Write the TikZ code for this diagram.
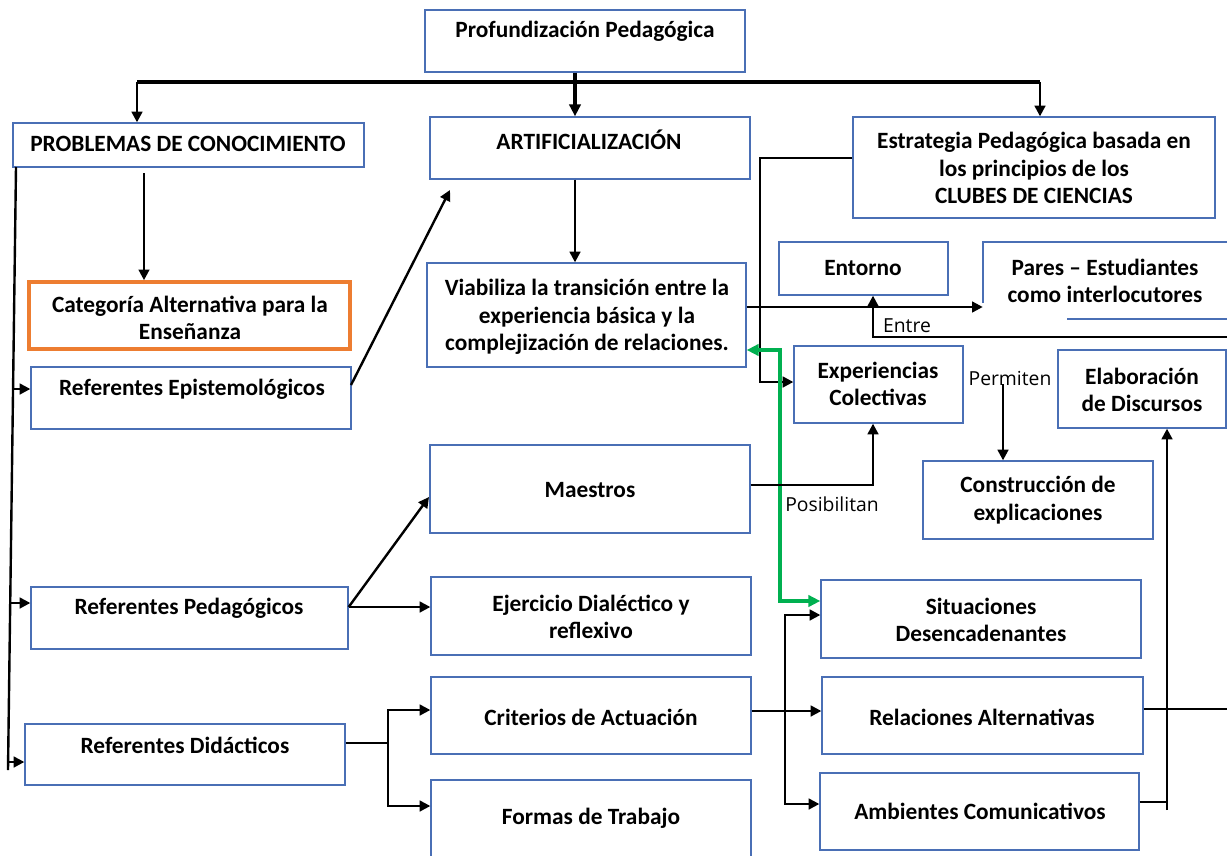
\documentclass[tikz,border=0pt]{standalone}
\usepackage{fontspec}
\setmainfont{Carlito}
\newfontfamily\lblfont{Open Sans}
\usetikzlibrary{arrows.meta,fit}
\definecolor{boxblue}{HTML}{4A6FB5}
\definecolor{orangeb}{HTML}{ED7D31}
\definecolor{greenl}{HTML}{00B050}
\begin{document}
\begin{tikzpicture}[x=0.75pt,y=-0.75pt,
  box/.style={draw=boxblue, line width=1pt, inner sep=0pt},
  obox/.style={draw=orangeb, line width=2.7pt, inner sep=0pt},
  bline/.style={draw=boxblue, line width=1pt},
  txt/.style={font=\bfseries\fontsize{17.5}{20.5}\selectfont, align=center, inner sep=0pt},
  lbl/.style={font=\lblfont\fontsize{14.5}{16}\selectfont, inner sep=0pt},
  ln/.style={line width=1.8pt},
  arr/.style={line width=1.8pt, -{Triangle[length=8pt,width=8pt]}},
  tln/.style={line width=2.4pt},
  tarr/.style={line width=2.4pt, -{Triangle[length=9pt,width=8.5pt]}},
  garr/.style={draw=greenl, line width=2.6pt, {Triangle[length=9pt,width=8.5pt]}-{Triangle[length=9pt,width=8.5pt]}}
]
\useasboundingbox (0,0) rectangle (1227,856);
\clip (0,0) rectangle (1227,856);
\fill[white] (0,0) rectangle (1227,856);

% boxes
\node (prof)  [box, fit={(425,10)(745,72)}] {};
\node[txt] at (585,31) {Profundización Pedagógica};
\node (prob)  [box, fit={(13,123)(364,167)}] {};
\node[txt] at (188,144) {PROBLEMAS DE CONOCIMIENTO};
\node (artif) [box, fit={(430,117)(750,179)}] {};
\node[txt] at (589,140) {ARTIFICIALIZACIÓN};
\node (estr)  [box, fit={(853,117)(1215,218)}] {};
\node[txt] at (1034,168) {Estrategia Pedagógica basada en\\los principios de los\\CLUBES DE CIENCIAS};
\node (cat)   [obox, fit={(29,282)(350,349)}] {};
\node[txt] at (190,318) {Categoría Alternativa para la\\Enseñanza};
\node (repi)  [box, fit={(31,367)(351,429)}] {};
\node[txt] at (192,389) {Referentes Epistemológicos};
\node (viab)  [box, fit={(427,263)(746,367)}] {};
\node[txt] at (587,317) {Viabiliza la transición entre la\\experiencia básica y la\\complejización de relaciones.};
\node (ent)   [box, fit={(779,242)(948,295)}] {};
\node[txt] at (863,268) {Entorno};
\node (pares) [inner sep=0pt, fit={(983,242)(1240,319)}] {};
\draw[bline] (983,303) -- (983,242) -- (1240,242);
\draw[bline] (1067,319) -- (1240,319);
\node[txt] at (1105,281) {Pares – Estudiantes\\como interlocutores};
\node (exp)   [box, fit={(794,346)(963,423)}] {};
\node[txt] at (878,384) {Experiencias\\Colectivas};
\node (elab)  [box, fit={(1058,350)(1226,428)}] {};
\node[txt] at (1142,390) {Elaboración\\de Discursos};
\node (maes)  [box, fit={(430,445)(750,533)}] {};
\node[txt] at (590,490) {Maestros};
\node (cons)  [box, fit={(923,461)(1153,539)}] {};
\node[txt] at (1038,500) {Construcción de\\explicaciones};
\node (rped)  [box, fit={(31,587)(348,649)}] {};
\node[txt] at (189,608) {Referentes Pedagógicos};
\node (ejer)  [box, fit={(431,577)(751,655)}] {};
\node[txt] at (591,617) {Ejercicio Dialéctico y\\reflexivo};
\node (sit)   [box, fit={(821,580)(1141,658)}] {};
\node[txt] at (981,620) {Situaciones\\Desencadenantes};
\node (crit)  [box, fit={(431,677)(751,754)}] {};
\node[txt] at (591,717) {Criterios de Actuación};
\node (rel)   [box, fit={(822,677)(1143,754)}] {};
\node[txt] at (982,717) {Relaciones Alternativas};
\node (rdid)  [box, fit={(25,724)(345,785)}] {};
\node[txt] at (185,745) {Referentes Didácticos};
\node (form)  [box, fit={(431,780)(751,880)}] {};
\node[txt] at (591,818) {Formas de Trabajo};
\node (amb)   [box, fit={(820,773)(1139,850)}] {};
\node[txt] at (980,811) {Ambientes Comunicativos};

% labels
\node[lbl] at (907,326) {Entre};
\node[lbl] at (832,504) {Posibilitan};
\node[lbl] at (1010,378) {Permiten};

% top connectors
\draw[tln] (137,82) -- (1040,82);
\draw[tarr] (prof.south -| 575,0) -- (artif.north -| 575,0);
\draw[arr] (137,82) -- (prob.north -| 137,0);
\draw[arr] (1040,82) -- (estr.north -| 1040,0);

% left column
\draw[arr] (144,173) -- (cat.north -| 144,0);
\draw[ln] (16,167) -- (8,770);
\draw[arr] (13,389) -- (repi.west |- 0,389);
\draw[arr] (10,603) -- (rped.west |- 0,603);
\draw[arr] (8,762) -- (rdid.west |- 0,762);

\draw[arr] (351,385) -- (450,190);
\draw[arr] (artif.south -| 575,0) -- (viab.north -| 575,0);
\draw[arr] (viab.east |- 0,307) -- (pares.west |- 0,307);
\draw[arr] (estr.west |- 0,158) -| (760,382) -- (exp.west |- 0,382);
\draw[garr] (viab.east |- 0,350) -| (780,601) -- (sit.west |- 0,601);
\draw[arr] (1230,337) -| (ent.south -| 873,0);
\draw[arr] (maes.east |- 0,485) -| (exp.south -| 873,0);
\draw[arr] (1003,384) -- (cons.north -| 1003,0);

% pedagogicos
\draw[arr] (rped.east |- 0,607) -- (429,497);
\draw[arr] (rped.east |- 0,607) -- (ejer.west |- 0,607);

% didacticos
\draw[ln] (rdid.east |- 0,743) -- (388,743);
\draw[arr] (388,743) |- (crit.west |- 0,710);
\draw[arr] (388,743) |- (form.west |- 0,806);

\draw[arr] (crit.east |- 0,711) -- (rel.west |- 0,711);
\draw[arr] (785,711) |- (sit.west |- 0,615);
\draw[arr] (785,711) |- (amb.west |- 0,804);

\draw[ln] (rel.east |- 0,709) -- (1230,709);
\draw[ln] (amb.east |- 0,802) -- (1167,802);
\draw[arr] (1167,810) -- (elab.south -| 1167,0);
\end{tikzpicture}
\end{document}
